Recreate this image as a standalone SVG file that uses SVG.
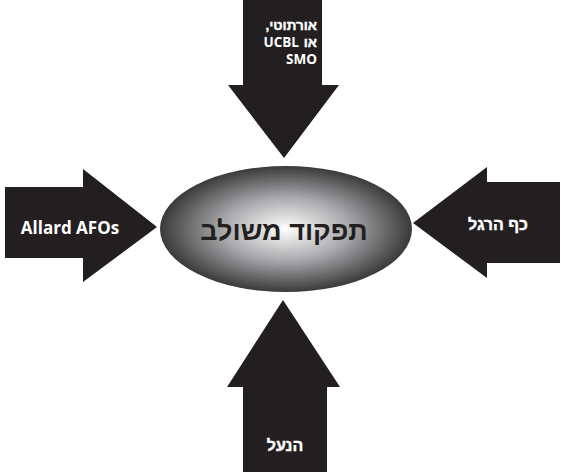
<svg xmlns="http://www.w3.org/2000/svg" width="561" height="475" viewBox="0 0 561 475">
<style>
.arrow{fill:#231f20}
.lbl{fill:#ffffff;font-family:"Open Sans","Liberation Sans","DejaVu Sans",sans-serif;font-weight:bold}
.heb{fill:#ffffff;stroke:#ffffff;stroke-width:0.4;font-family:"Liberation Sans","DejaVu Sans",sans-serif;font-weight:bold}
.center{fill:#231f20;font-family:"Liberation Sans","DejaVu Sans",sans-serif;font-weight:bold}
</style>
<defs>
<radialGradient id="g" cx="0.5" cy="0.5" r="0.5">
<stop offset="0" stop-color="#ffffff"/>
<stop offset="0.5" stop-color="#a8a9ab"/>
<stop offset="1" stop-color="#3a3a3b"/>
</radialGradient>
</defs>
<rect width="561" height="475" fill="#ffffff"/>
<g id="connectors">
<polygon id="arrow-top" class="arrow" points="243,0 322,0 322,85 339,85 284,158 228,85 243,85"/>
<polygon id="arrow-left" class="arrow" points="5,187 83,187 83,169 157,227 83,282 83,258 5,258"/>
<polygon id="arrow-right" class="arrow" points="560,182 487,182 487,167 413,223 487,278 487,263 560,263"/>
<polygon id="arrow-bottom" class="arrow" points="283,300 340,387 327,387 327,472 243,472 243,387 227,387"/>
</g>
<g id="node-center">
<ellipse cx="286" cy="229" rx="126" ry="63" fill="url(#g)"/>
<text class="center" x="284" y="240" font-size="27" text-anchor="middle">תפקוד משולב</text>
</g>
<g id="node-top">
<text class="heb" font-size="13.5" x="317" y="30" direction="rtl" text-anchor="start">אורתוטי,</text>
<text class="heb" font-size="13.5" x="317" y="47" text-anchor="end">או</text>
<text class="lbl" font-size="13.5" x="299" y="47" text-anchor="end">UCBL</text>
<text class="lbl" font-size="13.5" x="317" y="64" text-anchor="end">SMO</text>
</g>
<g id="node-left">
<text class="lbl" font-size="17" x="70" y="234" text-anchor="middle">Allard AFOs</text>
</g>
<g id="node-right">
<text class="heb" font-size="16" x="498" y="230" text-anchor="middle">כף הרגל</text>
</g>
<g id="node-bottom">
<text class="heb" font-size="16" x="285" y="451" text-anchor="middle">הנעל</text>
</g>
</svg>
